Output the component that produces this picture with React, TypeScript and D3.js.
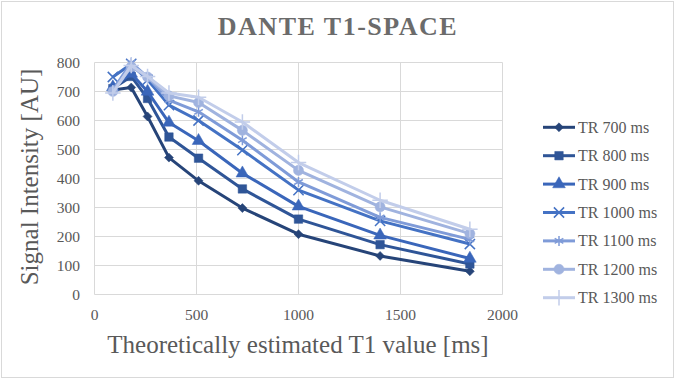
import React from "react"
import * as d3 from "d3"

// Theoretical T1 values of the phantom vials [ms]
const t1Values = [90, 180, 260, 365, 510, 725, 1000, 1400, 1840]

const seriesNames = ["TR 700 ms", "TR 800 ms", "TR 900 ms", "TR 1000 ms", "TR 1100 ms", "TR 1200 ms", "TR 1300 ms"]

// Signal intensity per TR, one value per T1
const tr700 = [705, 714, 614, 472, 392, 298, 208, 133, 80]
const tr800 = [710, 752, 676, 543, 470, 364, 260, 172, 105]
const tr900 = [715, 762, 700, 593, 530, 418, 304, 204, 124]
const tr1000 = [750, 795, 740, 653, 600, 498, 360, 254, 174]
const tr1100 = [705, 800, 750, 670, 630, 532, 388, 266, 190]
const tr1200 = [700, 785, 750, 685, 662, 566, 428, 302, 210]
const tr1300 = [695, 790, 752, 695, 680, 595, 455, 325, 225]

const seriesValues = [tr700, tr800, tr900, tr1000, tr1100, tr1200, tr1300]

const xTicks = [0, 500, 1000, 1500, 2000]
const yTicks = [0, 100, 200, 300, 400, 500, 600, 700, 800]

const colors = ["#264478", "#2f5597", "#3a66ba", "#4472c4", "#7f9bd8", "#a0b3df", "#c2cdea"]

const W = 677
const H = 380
const textColor = "#595959"
const grid = "#d9d9d9"
const font = "'Liberation Serif', 'Times New Roman', serif"

const x = d3.scaleLinear().domain([0, 2000]).range([94.5, 502.5])
const y = d3.scaleLinear().domain([0, 800]).range([294.5, 62.5])

// marker shapes per series
const markers = [
  { type: d3.symbolSquare, size: 40, rotate: 45, fill: true },
  { type: d3.symbolSquare, size: 72, rotate: 0, fill: true },
  { type: d3.symbolTriangle, size: 70, rotate: 0, fill: true },
  { type: d3.symbolTimes, size: 70, rotate: 0, fill: false },
  { type: d3.symbolAsterisk, size: 70, rotate: 0, fill: false },
  { type: d3.symbolCircle, size: 80, rotate: 0, fill: true },
  { type: d3.symbolPlus, size: 80, rotate: 0, fill: false }
]

function Marker({ i, cx, cy }) {
  const m = markers[i]
  const d = d3.symbol().type(m.type).size(m.size)()
  return (
    <path
      d={d}
      transform={`translate(${cx},${cy}) rotate(${m.rotate})`}
      fill={m.fill ? colors[i] : "none"}
      stroke={colors[i]}
      strokeWidth={m.fill ? 0.5 : 1.5}
    />
  )
}

export default function App() {
  const line = d3
    .line<number>()
    .x((d, j) => x(t1Values[j]))
    .y(d => y(d))

  const legendY0 = 127.3
  const legendStep = 28.4

  return (
    <svg width={W} height={H} style={{ position: "absolute", left: 0, top: 0, background: "#fff" }} fontFamily={font}>
      <rect x={1.5} y={1.5} width={672} height={376} fill="#fff" stroke={grid} />

      <text x={338} y={35} textAnchor="middle" fontSize={26} fontWeight="bold" letterSpacing={1.5} fill="#6b6b6b">
        DANTE T1-SPACE
      </text>

      {/* grid */}
      {yTicks.map(t => (
        <line key={"gy" + t} x1={x(0)} x2={x(2000)} y1={y(t)} y2={y(t)} stroke={grid} strokeWidth={1} />
      ))}
      {xTicks.map(t => (
        <line key={"gx" + t} x1={x(t)} x2={x(t)} y1={y(0)} y2={y(800)} stroke={grid} strokeWidth={1} />
      ))}

      {/* tick labels */}
      {yTicks.map(t => (
        <text key={"ty" + t} x={80} y={y(t) + 5} textAnchor="end" fontSize={15.5} fill={textColor}>
          {t}
        </text>
      ))}
      {xTicks.map(t => (
        <text key={"tx" + t} x={x(t)} y={320} textAnchor="middle" fontSize={15.5} fill={textColor}>
          {t}
        </text>
      ))}

      {/* axis titles */}
      <text x={298} y={353} textAnchor="middle" fontSize={25} fill={textColor}>
        Theoretically estimated T1 value [ms]
      </text>
      <text transform="translate(38,177) rotate(-90)" textAnchor="middle" fontSize={25} fill={textColor}>
        Signal Intensity [AU]
      </text>

      {/* series */}
      {seriesValues.map((vals, i) => (
        <g key={"s" + i}>
          <path d={line(vals)} fill="none" stroke={colors[i]} strokeWidth={3} strokeLinejoin="round" />
          {vals.map((v, j) => (
            <Marker key={j} i={i} cx={x(t1Values[j])} cy={y(v)} />
          ))}
        </g>
      ))}

      {/* legend */}
      {seriesNames.map((name, i) => {
        const ly = legendY0 + i * legendStep
        return (
          <g key={"l" + i}>
            <line x1={543} x2={575} y1={ly} y2={ly} stroke={colors[i]} strokeWidth={3} />
            <Marker i={i} cx={559} cy={ly} />
            <text x={578} y={ly + 5.5} fontSize={16} fill={textColor}>
              {name}
            </text>
          </g>
        )
      })}
    </svg>
  )
}
